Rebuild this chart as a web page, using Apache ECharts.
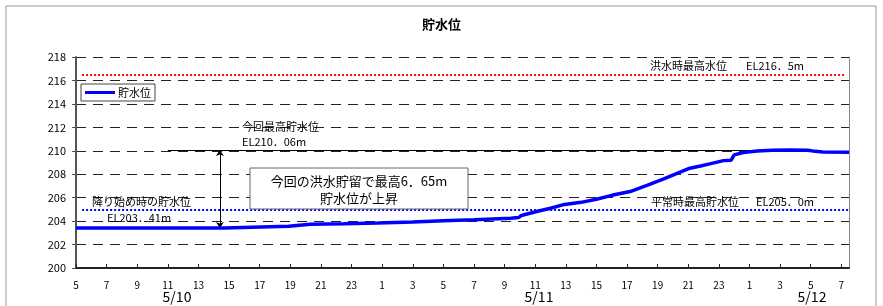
<!DOCTYPE html>
<html>
<head>
<meta charset="utf-8">
<script src="https://cdn.jsdelivr.net/npm/echarts@6/dist/echarts.min.js"></script>
<style>
  html, body { margin: 0; padding: 0; background: #fff; }
  #chart { width: 883px; height: 306px; }
</style>
</head>
<body>
<div id="chart"></div>
<script>
  // hours since 5/10 05:00
  var hours = [0, 9.7, 9.8, 13.9, 14.0, 15.3, 17.5, 19.7, 22, 24, 26, 28.4, 28.9, 29.1, 30.1, 31, 31.8, 33, 34, 35, 36.2, 37.3, 38.4, 40.1, 40.8, 41.4, 42.3, 42.8, 43.0, 43.6, 44.5, 45.5, 46.7, 47.8, 48.3, 48.8, 50.5];
  var levels = [203.41, 203.41, 203.52, 203.56, 203.68, 203.74, 203.78, 203.83, 203.92, 204.03, 204.12, 204.25, 204.30, 204.48, 204.82, 205.10, 205.39, 205.60, 205.87, 206.20, 206.52, 207.05, 207.60, 208.51, 208.70, 208.88, 209.16, 209.20, 209.65, 209.85, 209.98, 210.04, 210.06, 210.04, 209.95, 209.90, 209.87];
  var startHour = 5;
  var dayLabels = ['5/10', '5/11', '5/12'];

  var floodMax = 216.5;   // 洪水時最高水位
  var normalMax = 205.0;  // 平常時最高貯水位
  var peakLevel = 210.06; // 今回最高貯水位
  var startLevel = 203.41; // 降り始め時の貯水位

  var FONT = '"Noto Sans CJK JP", "Noto Sans", sans-serif';

  var seriesData = hours.map(function (h, i) { return [h, levels[i]]; });

  function txt(x, y, s, size, align) {
    return {
      type: 'text', x: x, y: y, silent: true, z: 10,
      style: { text: s, fontSize: size || 11, fontFamily: FONT, fill: '#000', align: align || 'left', verticalAlign: 'middle' }
    };
  }

  var chart = echarts.init(document.getElementById('chart'));
  chart.setOption({
    animation: false,
    textStyle: { fontFamily: FONT },
    title: {
      text: '貯水位', left: 'center', top: 13,
      textStyle: { fontSize: 13, fontWeight: 'bold', color: '#000', fontFamily: FONT }
    },
    legend: {
      left: 81, top: 84, padding: [3, 4], itemGap: 4,
      borderColor: '#444', borderWidth: 1, backgroundColor: '#fff',
      icon: 'rect', itemWidth: 30, itemHeight: 3,
      textStyle: { fontSize: 11, color: '#000', fontFamily: FONT, padding: [0, 0, 0, -2] },
      data: ['貯水位']
    },
    grid: { left: 76, right: 34, top: 57, bottom: 38 },
    xAxis: {
      type: 'value', min: 0, max: 50.5, interval: 2,
      axisLine: { lineStyle: { color: '#222', width: 2 } },
      axisTick: { inside: true, length: 4, lineStyle: { color: '#222' } },
      axisLabel: {
        fontSize: 10, color: '#000', margin: 12, showMaxLabel: false,
        formatter: function (v) { return String((startHour + v) % 24); }
      },
      splitLine: { show: false }
    },
    yAxis: [{
      type: 'value', min: 200, max: 218, interval: 2,
      axisLine: { show: true, lineStyle: { color: '#555', width: 2 } },
      axisTick: { show: true, length: 4, lineStyle: { color: '#555' } },
      axisLabel: { fontSize: 11, color: '#000', margin: 10 },
      splitLine: { lineStyle: { color: '#222', type: [10, 7], width: 1 } }
    }, {
      type: 'value', min: 200, max: 218, position: 'right',
      axisLine: { show: true, lineStyle: { color: '#888', width: 1 } },
      axisTick: { show: false }, axisLabel: { show: false }, splitLine: { show: false }
    }],
    series: [{
      name: '貯水位', type: 'line', data: seriesData,
      symbol: 'none', z: 5,
      lineStyle: { color: '#0000ff', width: 3.5 },
      itemStyle: { color: '#0000ff' },
      markLine: {
        silent: true, symbol: 'none', label: { show: false },
        data: [
          [{ coord: [0.4, floodMax], lineStyle: { color: '#ff0000', type: 'dotted', width: 2 } }, { coord: [50.2, floodMax] }],
          [{ coord: [0.4, normalMax], lineStyle: { color: '#0000ff', type: 'dotted', width: 2 } }, { coord: [50.5, normalMax] }],
          [{ coord: [6.0, peakLevel], lineStyle: { color: '#000', type: 'solid', width: 1 } }, { coord: [46, peakLevel] }],
          [{ coord: [9.4, peakLevel], symbol: 'arrow', symbolSize: 6, lineStyle: { color: '#000', type: 'solid', width: 1 } },
           { coord: [9.4, startLevel], symbol: 'arrow', symbolSize: 6 }]
        ]
      }
    }],
    graphic: [
      { type: 'rect', silent: true, z: 0, shape: { x: 6, y: 6, width: 870, height: 310 }, style: { fill: 'none', stroke: '#999', lineWidth: 1 } },
      txt(650, 66, '洪水時最高水位'), txt(746, 66, 'EL216．5m'),
      txt(651, 202, '平常時最高貯水位'), txt(756, 202, 'EL205．0m'),
      txt(242, 127, '今回最高貯水位'), txt(242, 142, 'EL210．06m'),
      txt(92, 202, '降り始め時の貯水位'), txt(107, 218, 'EL203．41m'),
      { type: 'rect', silent: true, z: 9, shape: { x: 250, y: 168, width: 218, height: 41 }, style: { fill: '#fff', stroke: '#666', lineWidth: 1 } },
      txt(359, 181, '今回の洪水貯留で最高6．65m', 13, 'center'),
      txt(359, 198, '貯水位が上昇', 13, 'center'),
      txt(177, 297, dayLabels[0], 14, 'center'),
      txt(539, 297, dayLabels[1], 14, 'center'),
      txt(812, 297, dayLabels[2], 14, 'center')
    ]
  });
</script>
</body>
</html>
